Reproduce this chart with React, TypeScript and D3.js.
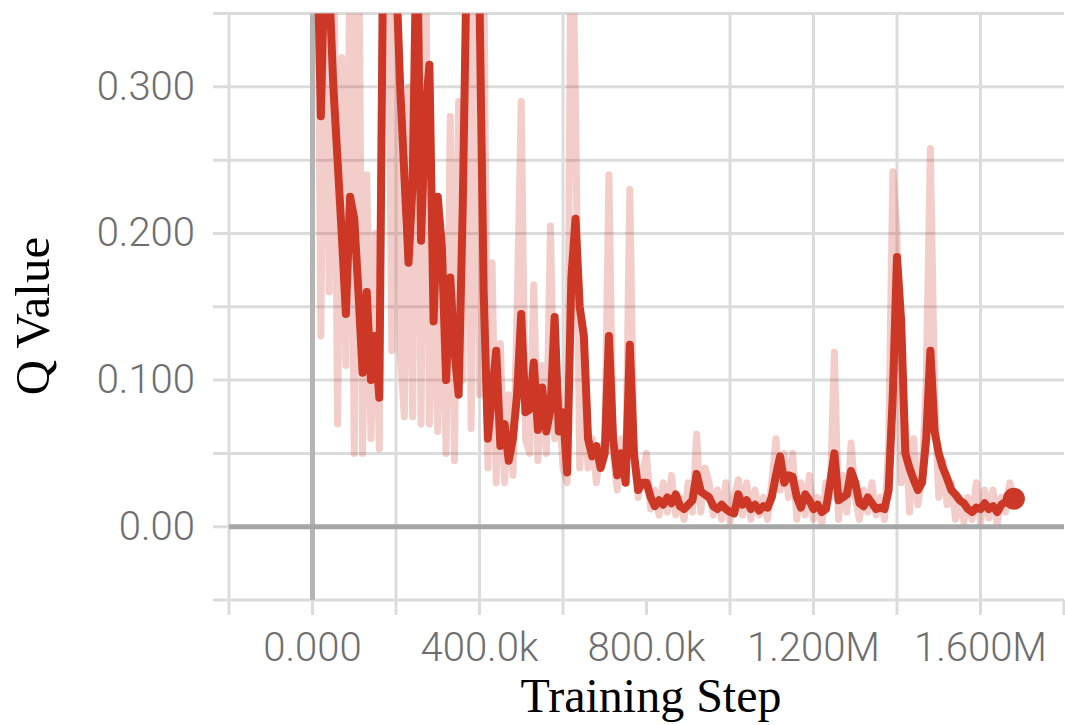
import React from "react";
import * as d3 from "d3";

// Training steps (logged every 10k)
const steps: number[] = d3.range(10000, 1690000, 10000);

// Smoothed Q value (dark line)
const smoothed: number[] = [
  0.42, 0.28, 0.40, 0.37, 0.30, 0.25, 0.20, 0.145, 0.225, 0.21,
  0.16, 0.105, 0.16, 0.10, 0.13, 0.088, 0.42, 0.46, 0.40, 0.38,
  0.30, 0.24, 0.18, 0.235, 0.42, 0.195, 0.28, 0.315, 0.14, 0.225,
  0.19, 0.10, 0.17, 0.12, 0.09, 0.22, 0.40, 0.45, 0.42, 0.36,
  0.16, 0.06, 0.09, 0.12, 0.055, 0.07, 0.045, 0.06, 0.09, 0.145,
  0.078, 0.08, 0.112, 0.066, 0.095, 0.065, 0.08, 0.143, 0.065, 0.078,
  0.037, 0.17, 0.21, 0.15, 0.13, 0.06, 0.048, 0.055, 0.04, 0.05,
  0.13, 0.06, 0.035, 0.05, 0.03, 0.124, 0.05, 0.025, 0.03, 0.03,
  0.02, 0.014, 0.018, 0.015, 0.02, 0.016, 0.022, 0.014, 0.012, 0.015,
  0.018, 0.036, 0.024, 0.022, 0.02, 0.014, 0.012, 0.015, 0.012, 0.01,
  0.009, 0.022, 0.015, 0.018, 0.012, 0.015, 0.011, 0.014, 0.013, 0.02,
  0.035, 0.048, 0.03, 0.035, 0.034, 0.02, 0.013, 0.022, 0.018, 0.012,
  0.015, 0.01, 0.012, 0.03, 0.05, 0.018, 0.02, 0.022, 0.038, 0.03,
  0.016, 0.014, 0.02, 0.016, 0.012, 0.013, 0.012, 0.025, 0.09, 0.184,
  0.14, 0.05, 0.04, 0.032, 0.025, 0.03, 0.06, 0.12, 0.065, 0.05,
  0.04, 0.033, 0.025, 0.022, 0.018, 0.016, 0.012, 0.01, 0.013, 0.012,
  0.016, 0.012, 0.014, 0.01, 0.015, 0.017, 0.018, 0.019,
];

// Raw Q value (light line)
const raw: number[] = [
  0.50, 0.13, 0.45, 0.16, 0.45, 0.07, 0.32, 0.11, 0.40, 0.05,
  0.45, 0.05, 0.24, 0.06, 0.20, 0.053, 0.50, 0.45, 0.12, 0.45,
  0.12, 0.075, 0.30, 0.075, 0.45, 0.07, 0.45, 0.07, 0.20, 0.065,
  0.20, 0.05, 0.28, 0.045, 0.29, 0.10, 0.45, 0.067, 0.45, 0.09,
  0.40, 0.04, 0.18, 0.03, 0.125, 0.03, 0.09, 0.035, 0.145, 0.29,
  0.06, 0.05, 0.165, 0.045, 0.11, 0.05, 0.205, 0.06, 0.09, 0.04,
  0.03, 0.45, 0.29, 0.04, 0.10, 0.04, 0.06, 0.03, 0.055, 0.05,
  0.24, 0.05, 0.025, 0.06, 0.03, 0.23, 0.05, 0.02, 0.035, 0.05,
  0.012, 0.025, 0.008, 0.03, 0.01, 0.035, 0.008, 0.02, 0.005, 0.03,
  0.01, 0.063, 0.01, 0.04, 0.03, 0.008, 0.025, 0.005, 0.03, 0.003,
  0.02, 0.032, 0.008, 0.03, 0.005, 0.025, 0.008, 0.02, 0.005, 0.03,
  0.06, 0.025, 0.05, 0.02, 0.05, 0.005, 0.03, 0.008, 0.035, 0.005,
  0.02, 0.002, 0.03, 0.02, 0.119, 0.005, 0.035, 0.01, 0.057, 0.02,
  0.005, 0.025, 0.01, 0.03, 0.008, 0.02, 0.005, 0.055, 0.242, 0.20,
  0.03, 0.07, 0.01, 0.06, 0.015, 0.035, 0.10, 0.258, 0.09, 0.02,
  0.045, 0.015, 0.03, 0.005, 0.02, 0.003, 0.02, 0.005, 0.03, 0.003,
  0.025, 0.006, 0.025, 0.002, 0.02, 0.01, 0.03, 0.018,
];

const xGridValues: number[] = [-200000, 0, 200000, 400000, 600000, 1000000, 1200000, 1400000, 1600000];
const xTickValues: number[] = [-200000, 0, 200000, 400000, 600000, 800000, 1000000, 1200000, 1400000, 1600000, 1800000];
const xTickLabels: { v: number; t: string }[] = [
  { v: 0, t: "0.000" },
  { v: 400000, t: "400.0k" },
  { v: 800000, t: "800.0k" },
  { v: 1200000, t: "1.200M" },
  { v: 1600000, t: "1.600M" },
];
const yGridValues: number[] = [-0.05, 0, 0.05, 0.1, 0.15, 0.2, 0.25, 0.3, 0.35];
const yTickLabels: { v: number; t: string }[] = [
  { v: 0, t: "0.00" },
  { v: 0.1, t: "0.100" },
  { v: 0.2, t: "0.200" },
  { v: 0.3, t: "0.300" },
];

const W = 1065;
const H = 725;
const L = 229;
const R = 1064;
const T = 13.5;
const B = 600;

export default function App() {
  const x = d3.scaleLinear().domain([-200000, 1800000]).range([L, R]);
  const y = d3.scaleLinear().domain([-0.05, 0.35]).range([B, T]);

  const line = d3
    .line<number>()
    .x((_, i) => x(steps[i]))
    .y((d) => y(d));

  const red = "#cd3826";
  const gridColor = "#dcdcdc";
  const tickFont = "Roboto, 'Liberation Sans', sans-serif";
  const lastI = smoothed.length - 1;

  return (
    <svg
      width={W}
      height={H}
      style={{ position: "absolute", left: 0, top: 0, background: "#fff" }}
    >
      <defs>
        <clipPath id="plot">
          <rect x={L} y={T} width={R - L} height={B - T} />
        </clipPath>
      </defs>

      {/* horizontal grid + left ticks */}
      {yGridValues.map((v) => (
        <line
          key={"hy" + v}
          x1={L - 16}
          x2={R}
          y1={y(v)}
          y2={y(v)}
          stroke={gridColor}
          strokeWidth={3}
        />
      ))}
      {/* vertical grid */}
      {xGridValues.map((v) => (
        <line
          key={"vx" + v}
          x1={x(v)}
          x2={x(v)}
          y1={T}
          y2={B}
          stroke={gridColor}
          strokeWidth={3}
        />
      ))}
      {/* bottom ticks */}
      {xTickValues.map((v) => (
        <line
          key={"tx" + v}
          x1={x(v)}
          x2={x(v)}
          y1={B}
          y2={B + 15}
          stroke={gridColor}
          strokeWidth={3}
        />
      ))}

      {/* zero line (vertical) */}
      <line x1={x(0)} x2={x(0)} y1={T} y2={B} stroke="#b4b4b4" strokeWidth={5} />

      <g clipPath="url(#plot)">
        <path
          d={line(raw) || ""}
          fill="none"
          stroke={red}
          strokeOpacity={0.25}
          strokeWidth={7}
          strokeLinejoin="round"
        />
        <path
          d={line(smoothed) || ""}
          fill="none"
          stroke={red}
          strokeWidth={8}
          strokeLinejoin="round"
        />
        <circle cx={x(steps[lastI])} cy={y(smoothed[lastI])} r={11} fill={red} />
      </g>

      <line x1={L} x2={R} y1={y(0)} y2={y(0)} stroke="#a6a6a6" strokeWidth={5} />

      {/* y tick labels */}
      {yTickLabels.map((d) => (
        <text
          key={"yl" + d.v}
          x={195}
          y={y(d.v) + 13}
          textAnchor="end"
          fontFamily={tickFont}
          fontWeight={300}
          fontSize={40}
          fill="#6e6e6e"
        >
          {d.t}
        </text>
      ))}
      {/* x tick labels */}
      {xTickLabels.map((d) => (
        <text
          key={"xl" + d.v}
          x={x(d.v)}
          y={661}
          textAnchor="middle"
          fontFamily={tickFont}
          fontWeight={300}
          fontSize={40}
          fill="#6e6e6e"
        >
          {d.t}
        </text>
      ))}

      {/* axis titles */}
      <text
        x={651}
        y={712}
        textAnchor="middle"
        fontFamily="'Liberation Serif', 'Times New Roman', serif"
        fontSize={48}
        fill="#000"
      >
        Training Step
      </text>
      <text
        transform="translate(49,316) rotate(-90)"
        textAnchor="middle"
        fontFamily="'Liberation Serif', 'Times New Roman', serif"
        fontSize={49}
        fill="#000"
      >
        Q Value
      </text>
    </svg>
  );
}
